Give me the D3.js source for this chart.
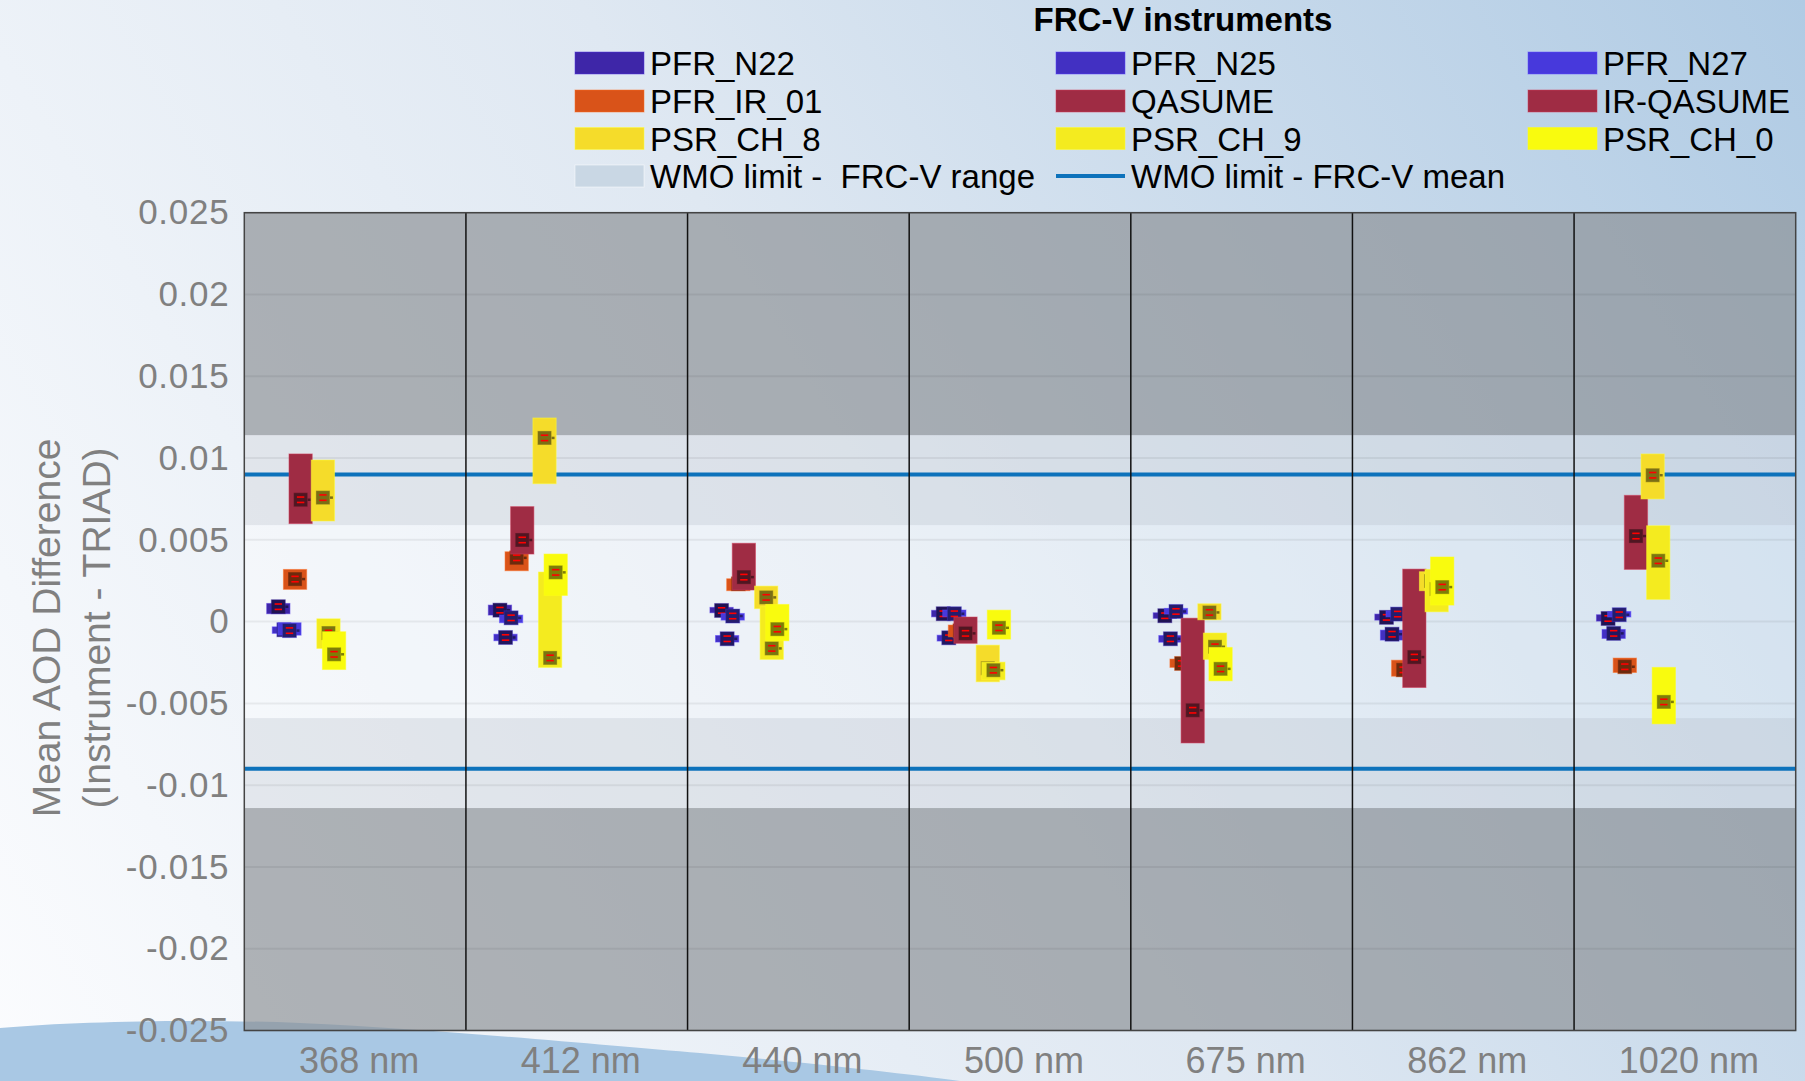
<!DOCTYPE html>
<html><head><meta charset="utf-8">
<script src="https://cdn.jsdelivr.net/npm/d3@7"></script>
<style>html,body{margin:0;padding:0;overflow:hidden;background:#fff} text{white-space:pre}</style>
</head><body><svg id="c" width="1805" height="1081"></svg>
<script>
// ---------------- DATA ----------------
const categories = ["368 nm","412 nm","440 nm","500 nm","675 nm","862 nm","1020 nm"];
const instruments = ["PFR_N22","PFR_N25","PFR_N27","PFR_IR_01","QASUME","IR-QASUME","PSR_CH_8","PSR_CH_9","PSR_CH_0"];
const yTickValues = [0.025,0.02,0.015,0.01,0.005,0,-0.005,-0.01,-0.015,-0.02,-0.025];
const yTickLabels = ["0.025","0.02","0.015","0.01","0.005","0","-0.005","-0.01","-0.015","-0.02","-0.025"];
const wmoRange = [0.0059, 0.0114];   // FRC-V range of WMO limit (symmetric)
const wmoMean = 0.009;               // FRC-V mean of WMO limit (symmetric)

// mean / low / high per instrument, one value per wavelength (null = not present)
const meanN22 = [0.00091, 0.00070, 0.00068, 0.00048, 0.00036, 0.00026, 0.00019];
const lowN22  = [0.00048, 0.00040, 0.00054, 0.00029, 0.00020, 0.00009, 0.00003];
const highN22 = [0.00111, 0.00101, 0.00087, 0.00069, 0.00054, 0.00046, 0.00042];

const meanN25 = [-0.00050, -0.00097, -0.00105, -0.00099, -0.00105, -0.00077, -0.00072];
const lowN25  = [-0.00072, -0.00117, -0.00125, -0.00119, -0.00126, -0.00113, -0.00103];
const highN25 = [-0.00032, -0.00077, -0.00085, -0.00083, -0.00085, -0.00052, -0.00048];

const meanN27 = [-0.00055, 0.00023, 0.00034, 0.00048, 0.00062, 0.00046, 0.00042];
const lowN27  = [-0.00083, -0.00007, 0.00009, 0.00030, 0.00046, 0.00029, 0.00028];
const highN27 = [-0.00007, 0.00040, 0.00050, 0.00071, 0.00081, 0.00066, 0.00062];

const meanIR01 = [0.00260, 0.00390, 0.00231, -0.00056, -0.00256, -0.00295, -0.00276];
const lowIR01  = [0.00197, 0.00311, 0.00189, -0.00093, -0.00280, -0.00334, -0.00311];
const highIR01 = [0.00319, 0.00427, 0.00262, -0.00021, -0.00229, -0.00236, -0.00223];

const meanQAS = [0.00745, 0.00499, 0.00272, -0.00072, null, null, null];
const lowQAS  = [0.00599, 0.00413, 0.00193, -0.00133, null, null, null];
const highQAS = [0.01025, 0.00703, 0.00479, 0.00028, null, null, null];

const meanIRQ = [null, null, null, null, -0.00542, -0.00217, 0.00523];
const lowIRQ  = [null, null, null, null, -0.00742, -0.00403, 0.00319];
const highIRQ = [null, null, null, null, 0.00021, 0.00321, 0.00772];

const meanCH8 = [0.00758, 0.01123, 0.00148, -0.00285, 0.00056, 0.00248, 0.00895];
const lowCH8  = [0.00615, 0.00843, 0.00079, -0.00368, 0.00011, 0.00189, 0.00750];
const highCH8 = [0.00988, 0.01245, 0.00217, -0.00144, 0.00109, 0.00305, 0.01025];

const meanCH9 = [-0.00070, -0.00222, -0.00164, -0.00297, -0.00154, 0.00199, 0.00372];
const lowCH9  = [-0.00164, -0.00280, -0.00231, -0.00356, -0.00231, 0.00060, 0.00136];
const highCH9 = [0.00017, 0.00303, 0.00091, -0.00248, -0.00070, 0.00319, 0.00586];

const meanCH0 = [-0.00200, 0.00301, -0.00046, -0.00038, -0.00289, 0.00211, -0.00491];
const lowCH0  = [-0.00293, 0.00160, -0.00117, -0.00107, -0.00362, 0.00101, -0.00625];
const highCH0 = [-0.00062, 0.00413, 0.00105, 0.00070, -0.00158, 0.00395, -0.00280];

// ---------------- STYLE / LAYOUT ----------------
const colors = ["#3e26a8","#4230c2","#4739dc","#d95319","#9f2c44","#9f2c44","#f5dc2a","#f4eb1f","#f9fb0e"];
const slots  = [0,1,2,3,4,5,8,9,10];
const series = [
  [meanN22,lowN22,highN22],[meanN25,lowN25,highN25],[meanN27,lowN27,highN27],
  [meanIR01,lowIR01,highIR01],[meanQAS,lowQAS,highQAS],[meanIRQ,lowIRQ,highIRQ],
  [meanCH8,lowCH8,highCH8],[meanCH9,lowCH9,highCH9],[meanCH0,lowCH0,highCH0]
];

const W = 1805, H = 1081;
const FONT = "Liberation Sans, Arial, sans-serif";
const plot = {l:244.3, r:1795.7, t:212.7, b:1030.5};
const svg = d3.select("#c");
const defs = svg.append("defs");
const g1 = defs.append("linearGradient").attr("id","bg").attr("gradientUnits","userSpaceOnUse")
  .attr("x1",0).attr("y1",H).attr("x2",W).attr("y2",0);
g1.append("stop").attr("offset","0").attr("stop-color","#fbfcfe");
g1.append("stop").attr("offset","0.5").attr("stop-color","#dfe8f2");
g1.append("stop").attr("offset","1").attr("stop-color","#b0cbe4");

svg.append("rect").attr("width",W).attr("height",H).attr("fill","url(#bg)");
svg.append("path")
  .attr("d","M0,1028 C80,1021 200,1019 300,1023 C450,1030 600,1045 700,1053 C800,1062 900,1073 960,1081 L0,1081 Z")
  .attr("fill","#a9c8e4");

const y = d3.scaleLinear().domain([-0.025,0.025]).range([plot.b, plot.t]);
const x = d3.scaleBand().domain(categories).range([plot.l, plot.r]).padding(0);
const bw = x.bandwidth();
const slotX = d3.scaleLinear().domain([0,10]).range([0.1535*bw, 0.405*bw]);
const boxW = 0.105*bw, mk = 14;

const pw = plot.r - plot.l;
// plot background layers
svg.append("rect").attr("x",plot.l).attr("y",plot.t).attr("width",pw).attr("height",plot.b-plot.t)
  .attr("fill","#ffffff").attr("opacity",0.35);
[[wmoRange[0],wmoRange[1]],[-wmoRange[1],-wmoRange[0]]].forEach(([a,b])=>{
  svg.append("rect").attr("x",plot.l).attr("y",y(b)).attr("width",pw).attr("height",y(a)-y(b))
    .attr("fill","#aab4c0").attr("opacity",0.25);
});
[[wmoRange[1],0.025],[-0.025,-wmoRange[1]]].forEach(([a,b])=>{
  svg.append("rect").attr("x",plot.l).attr("y",y(b)).attr("width",pw).attr("height",y(a)-y(b))
    .attr("fill","#646970").attr("opacity",0.5);
});
// grid
svg.append("g").selectAll("line").data(yTickValues).join("line")
  .attr("x1",plot.l).attr("x2",plot.r).attr("y1",d=>y(d)).attr("y2",d=>y(d))
  .attr("stroke","#000").attr("stroke-opacity",0.06).attr("stroke-width",2);
// WMO mean lines
[wmoMean,-wmoMean].forEach(v=>{
  svg.append("line").attr("x1",plot.l).attr("x2",plot.r).attr("y1",y(v)).attr("y2",y(v))
    .attr("stroke","#0d72bb").attr("stroke-width",4);
});
// separators
svg.append("g").selectAll("line").data(categories.slice(1)).join("line")
  .attr("x1",d=>x(d)).attr("x2",d=>x(d)).attr("y1",plot.t).attr("y2",plot.b)
  .attr("stroke","#111").attr("stroke-width",1.5);
svg.append("rect").attr("x",plot.l).attr("y",plot.t).attr("width",pw).attr("height",plot.b-plot.t)
  .attr("fill","none").attr("stroke","#444").attr("stroke-width",1.5);

// data
const dg = svg.append("g");
categories.forEach((cat,ci)=>{
  series.forEach((s,ii)=>{
    const m = s[0][ci], lo = s[1][ci], hi = s[2][ci];
    if (m === null) return;
    const cx = x(cat) + slotX(slots[ii]);
    const c = d3.rgb(colors[ii]);
    dg.append("rect").attr("x",cx-boxW/2).attr("y",y(hi)).attr("width",boxW).attr("height",Math.max(1,y(lo)-y(hi)))
      .attr("fill",colors[ii]).attr("stroke",c.brighter(0.8)).attr("stroke-opacity",0.5).attr("stroke-width",1);
    const dk = d3.rgb(c.r*0.5,c.g*0.5,c.b*0.5);
    dg.append("rect").attr("x",cx-mk/2).attr("y",y(m)-mk/2).attr("width",mk).attr("height",mk)
      .attr("fill",dk).attr("stroke",c).attr("stroke-opacity",0.4).attr("stroke-width",1);
    dg.append("line").attr("x1",cx+mk/2).attr("x2",cx+mk/2+3).attr("y1",y(m)).attr("y2",y(m))
      .attr("stroke",dk).attr("stroke-width",2.5);
    [-2.7,2.7].forEach(o=>{
      dg.append("line").attr("x1",cx-3.7).attr("x2",cx+3.7).attr("y1",y(m)+o).attr("y2",y(m)+o)
        .attr("stroke","#ff0000").attr("stroke-width",1.6);
    });
  });
});

// axes
const yAx = svg.append("g").attr("transform",`translate(${plot.l},0)`)
  .call(d3.axisLeft(y).tickValues(yTickValues).tickFormat((d,i)=>yTickLabels[i]).tickSize(0).tickPadding(15));
yAx.select(".domain").remove();
yAx.selectAll("text").attr("font-family",FONT).attr("font-size",35)
  .attr("fill","#808080").attr("letter-spacing","0.7px");
const xAx = svg.append("g").attr("transform",`translate(0,${plot.b})`)
  .call(d3.axisBottom(x).tickSize(0).tickPadding(17));
xAx.select(".domain").remove();
xAx.selectAll("text").attr("font-family",FONT).attr("font-size",36)
  .attr("fill","#808080").attr("dy","0.71em").attr("dx",4);

// y label
[["Mean AOD Difference",60],["(Instrument - TRIAD)",110]].forEach(([t,xx])=>{
  svg.append("text").attr("transform",`translate(${xx},628) rotate(-90)`).attr("text-anchor","middle")
    .attr("font-family",FONT).attr("font-size",39).attr("fill","#808080").text(t);
});

// legend
svg.append("text").attr("x",1183).attr("y",31).attr("text-anchor","middle")
  .attr("font-family",FONT).attr("font-weight","bold").attr("font-size",33)
  .attr("fill","#000").text("FRC-V instruments");
const legCols = [575,1056,1528], legRows = [63,101,138.5,176];
const legItems = instruments.map((n,i)=>({name:n,color:colors[i],type:"box"}))
  .concat([{name:"WMO limit -  FRC-V range",color:"#c9d7e4",type:"box"},{name:"WMO limit - FRC-V mean",color:"#0d72bb",type:"line"}]);
legItems.forEach((it,i)=>{
  const lx = legCols[i%3], ly = legRows[Math.floor(i/3)];
  if (it.type==="box") {
    svg.append("rect").attr("x",lx).attr("y",ly-11).attr("width",69).attr("height",22)
      .attr("fill",it.color).attr("stroke",d3.rgb(it.color).brighter(0.8)).attr("stroke-opacity",0.5);
  } else {
    svg.append("line").attr("x1",lx).attr("x2",lx+69).attr("y1",ly).attr("y2",ly)
      .attr("stroke",it.color).attr("stroke-width",4);
  }
  svg.append("text").attr("x",lx+75).attr("y",ly+12).attr("font-family",FONT)
    .attr("font-size",33).attr("fill","#000").text(it.name);
});
</script></body></html>
